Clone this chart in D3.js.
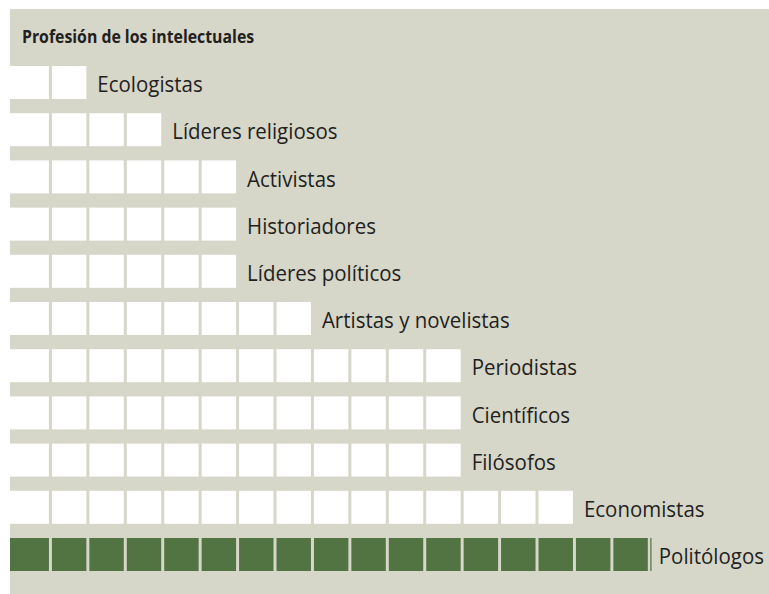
<!doctype html>
<html>
<head>
  <script src="https://cdnjs.cloudflare.com/ajax/libs/d3/7.8.5/d3.min.js"></script>
  <style>
    body { margin: 0; background: #fff; }
    text { font-family: "Open Sans", "Noto Sans", sans-serif; fill: #231f20; }
  </style>
</head>
<body>
<svg id="chart" width="769" height="594"></svg>
<script>
var title = "Profesión de los intelectuales";
var categories = ["Ecologistas", "Líderes religiosos", "Activistas", "Historiadores",
  "Líderes políticos", "Artistas y novelistas", "Periodistas", "Científicos",
  "Filósofos", "Economistas", "Politólogos"];
var counts = [2, 4, 6, 6, 6, 8, 12, 12, 12, 15, 17];
var highlight = "Politólogos";

var svg = d3.select("#chart");
var panelLeft = 10, panelTop = 9;

svg.append("rect")
  .attr("x", panelLeft).attr("y", panelTop)
  .attr("width", 769 - panelLeft).attr("height", 594 - panelTop)
  .attr("fill", "#d6d6c9");

svg.append("text")
  .attr("x", 22).attr("y", 43)
  .attr("font-size", 18).attr("font-weight", "bold")
  .attr("transform", "translate(22,0) scale(0.88,1) translate(-22,0)")
  .text(title);

// squares: one column per unit
var xScale = d3.scaleLinear().domain([0, 17]).range([14.5, 14.5 + 17 * 37.43]);
var step = xScale(1) - xScale(0);
var cellW = step - 3;
var yScale = d3.scaleLinear().domain([0, categories.length]).range([66, 66 + categories.length * 47.2]);
var cellH = 33;

var rows = svg.selectAll("g.row")
  .data(categories.map(function (c, i) { return { name: c, n: counts[i], i: i }; }))
  .enter().append("g")
  .attr("class", "row")
  .attr("transform", function (d) { return "translate(0," + yScale(d.i) + ")"; });

rows.selectAll("rect")
  .data(function (d) { return d3.range(d.n).map(function (k) { return { k: k, hi: d.name === highlight }; }); })
  .enter().append("rect")
  .attr("x", function (d) { return d.k === 0 ? panelLeft : xScale(d.k); })
  .attr("width", function (d) { return d.k === 0 ? xScale(0) + cellW - panelLeft : cellW; })
  .attr("height", cellH)
  .attr("fill", function (d) { return d.hi ? "#527342" : "#ffffff"; });

rows.filter(function (d) { return d.name === highlight; })
  .append("rect")
  .attr("x", function (d) { return xScale(d.n) - 0.5; })
  .attr("width", 1.2)
  .attr("height", cellH)
  .attr("fill", "#527342");

rows.append("text")
  .attr("x", function (d) { return xScale(d.n) + 8; })
  .attr("y", cellH / 2 + 1)
  .attr("dominant-baseline", "central")
  .attr("font-size", 22)
  .attr("transform", function (d) { var x = xScale(d.n) + 8; return "translate(" + x + ",0) scale(0.93,1) translate(" + (-x) + ",0)"; })
  .text(function (d) { return d.name; });
</script>
</body>
</html>
